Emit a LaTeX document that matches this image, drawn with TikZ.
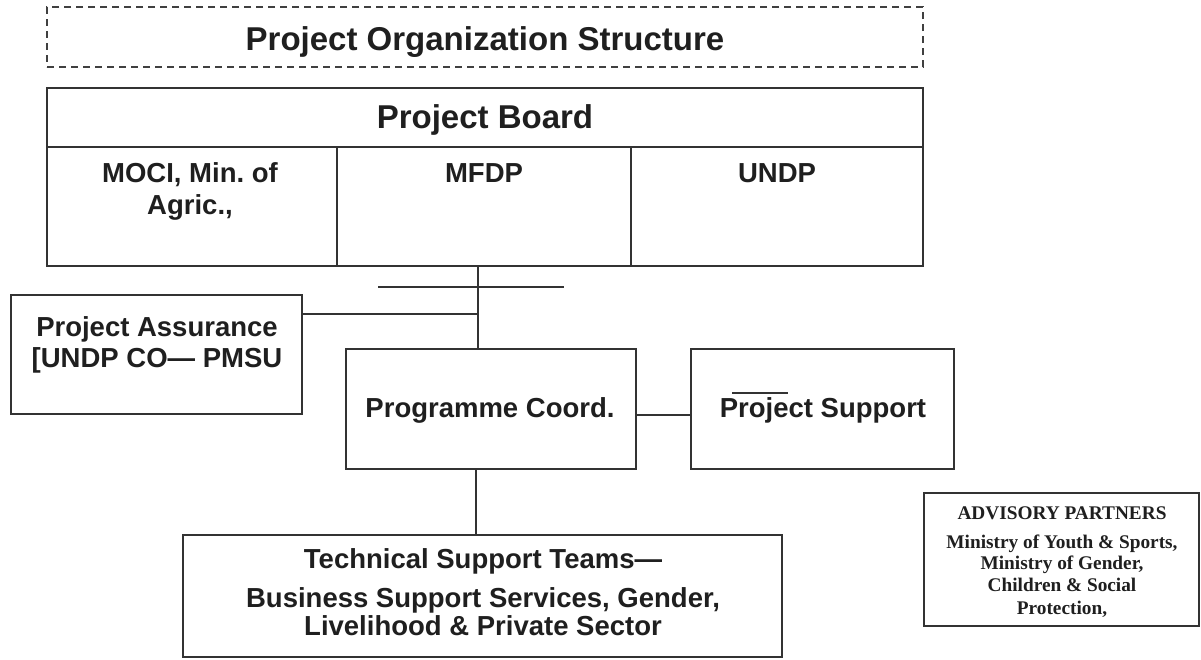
\documentclass[tikz,border=0pt]{standalone}
\usepackage{fontspec}
\setmainfont{Liberation Sans}
\newfontfamily\serifface{Liberation Serif}
\usetikzlibrary{fit}
\frenchspacing
\begin{document}
\begin{tikzpicture}[x=1pt,y=-1pt,
  frame/.style={draw=black!80, line width=1.6pt, inner sep=0pt, outer sep=0pt},
  dashframe/.style={draw=black!75, line width=1.5pt, dash pattern=on 7pt off 5pt, inner sep=0pt, outer sep=0pt},
  wire/.style={draw=black!80, line width=1.6pt},
  bigtxt/.style={anchor=base, inner sep=0pt, text=black!88, font=\fontsize{33}{38}\selectfont\bfseries},
  txt/.style={anchor=base, inner sep=0pt, text=black!88, font=\fontsize{27.5}{32}\selectfont\bfseries},
  smalltxt/.style={anchor=base, inner sep=0pt, text=black!88, font=\serifface\fontsize{19.3}{22}\selectfont\bfseries}
]
\useasboundingbox[fill=white] (0,0) rectangle (1201,659);

% title banner
\node[dashframe, fit={(47,7) (923,67)}] (title) {};
\node[bigtxt] (titletxt) at (485,50) {Project Organization Structure};

% project board: heading row and three member cells
\node[frame, fit={(47,88) (923,147)}] (boardhead) {};
\node[frame, fit={(47,147) (337,266)}] (cellA) {};
\node[frame, fit={(337,147) (631,266)}] (cellB) {};
\node[frame, fit={(631,147) (923,266)}] (cellC) {};
\node[bigtxt] (boardtxt) at (485,128) {Project Board};
\node[txt] (cellAtxt1) at (190,182) {MOCI, Min. of};
\node[txt] (cellAtxt2) at (190,214) {Agric.,};
\node[txt] (cellBtxt) at (484,182) {MFDP};
\node[txt] (cellCtxt) at (777,182) {UNDP};

% second level
\node[frame, fit={(11,295) (302,414)}] (pa) {};
\node[txt] (patxt1) at (157,336) {Project Assurance};
\node[txt] (patxt2) at (157,367) {[UNDP CO\textemdash\ PMSU};

\node[frame, fit={(346,349) (636,469)}] (pc) {};
\node[txt] (pctxt) at (490,417) {Programme Coord.};

\node[frame, fit={(691,349) (954,469)}] (ps) {};
\node[txt] (pstxt) at (823,417) {Project Support};
\draw[black!80, line width=1.3pt] (732,393) -- (788,393);

% technical teams
\node[frame, fit={(183,535) (782,657)}] (tst) {};
\node[txt] (tsttxt1) at (483,568) {Technical Support Teams\textemdash};
\node[txt] (tsttxt2) at (483,607) {Business Support Services, Gender,};
\node[txt] (tsttxt3) at (483,635) {Livelihood \& Private Sector};

% advisory partners
\node[frame, line width=1.4pt, fit={(924,493) (1199,626)}] (adv) {};
\node[smalltxt] (advtxt0) at (1062,519) {ADVISORY PARTNERS};
\node[smalltxt] (advtxt1) at (1062,548) {Ministry of Youth \& Sports,};
\node[smalltxt] (advtxt2) at (1062,569) {Ministry of Gender,};
\node[smalltxt] (advtxt3) at (1062,591) {Children \& Social};
\node[smalltxt] (advtxt4) at (1062,614) {Protection,};

% connectors
\coordinate (trunk) at (478,0);
\draw[wire] (trunk |- cellB.south) -- (trunk |- pc.north);
\coordinate (barL) at (378,287);
\coordinate (barR) at (564,287);
\draw[wire] (barL) -- (barR);
\coordinate (paJoin) at (478,314);
\draw[wire] (pa.east |- paJoin) -- (paJoin);
\coordinate (pcLink) at (0,415);
\draw[wire] (pc.east |- pcLink) -- (ps.west |- pcLink);
\coordinate (drop) at (476,0);
\draw[wire] (drop |- pc.south) -- (drop |- tst.north);
\end{tikzpicture}
\end{document}
